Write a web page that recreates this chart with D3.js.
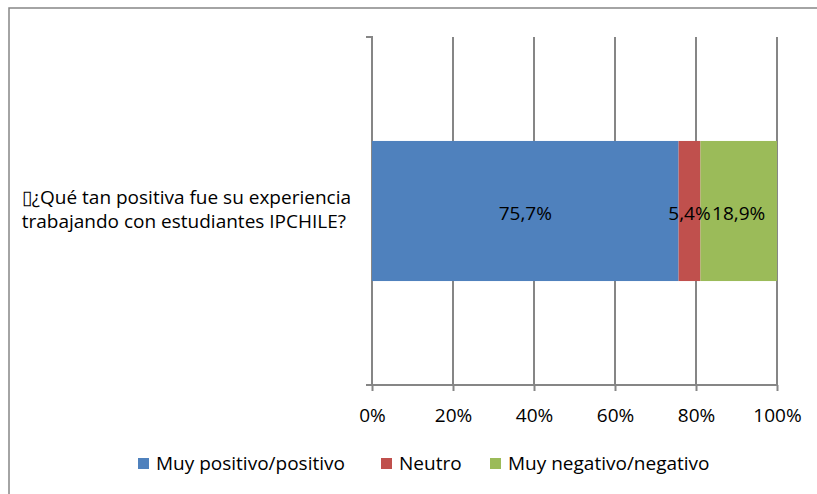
<!DOCTYPE html>
<html><head><meta charset="utf-8">
<script src="https://cdn.jsdelivr.net/npm/d3@7"></script>
<style>body{margin:0;background:#fff}svg{display:block}text{font-family:"Open Sans",sans-serif;fill:#000}</style>
</head><body>
<svg id="c" width="817" height="494"></svg>
<script>
const categories = ["▯¿Qué tan positiva fue su experiencia|trabajando con estudiantes IPCHILE?"];
const seriesNames = ["Muy positivo/positivo", "Neutro", "Muy negativo/negativo"];
const seriesValues = [[75.7], [5.4], [18.9]];
const seriesLabels = [["75,7%"], ["5,4%"], ["18,9%"]];
const colors = ["#4f81bd", "#c0504d", "#9bbb59"];
const xTicks = [0, 20, 40, 60, 80, 100];
const xTickLabels = ["0%", "20%", "40%", "60%", "80%", "100%"];

const svg = d3.select("#c");
// calibrate font size so the text width matches the reference (Calibri-like metrics)
const probe = svg.append("text").attr("font-size", 16).text(seriesNames[0]);
const FS = 16 * 189 / probe.node().getComputedTextLength();
probe.remove();

svg.append("rect").attr("x", 9).attr("y", 8).attr("width", 900).attr("height", 600)
  .attr("fill", "#fff").attr("stroke", "#868686").attr("stroke-width", 1.5);

const x = d3.scaleLinear().domain([0, 100]).range([372, 777]);
const y = d3.scaleBand().domain(categories).range([37, 385]).paddingInner(0.426).paddingOuter(0.426);
const gridColor = "#868686";

svg.append("g").selectAll("line").data(xTicks.slice(1)).join("line")
  .attr("x1", d => x(d)).attr("x2", d => x(d)).attr("y1", 37).attr("y2", 385)
  .attr("stroke", gridColor).attr("stroke-width", 2);

const xAxis = d3.axisBottom(x).tickValues(xTicks).tickSize(6).tickSizeOuter(0)
  .tickFormat((d, i) => xTickLabels[i]);
const gx = svg.append("g").attr("transform", "translate(0,385)").call(xAxis);
gx.select(".domain").attr("stroke", gridColor).attr("stroke-width", 2).attr("d", `M366,0H${x(100)}`);
gx.selectAll(".tick line").attr("stroke", gridColor).attr("stroke-width", 2);
gx.selectAll(".tick text").attr("font-size", FS).attr("font-family", "Open Sans").attr("fill", "#000")
  .attr("y", 30).attr("dy", "0.35em");

const yAxis = d3.axisLeft(y).tickSize(0).tickFormat("");
const gy = svg.append("g").attr("transform", "translate(372,0)").call(yAxis);
gy.select(".domain").attr("stroke", gridColor).attr("stroke-width", 2).attr("d", "M-6,37H0V385");

const stackData = categories.map((c, ci) => {
  const o = {cat: c};
  seriesNames.forEach((s, si) => o[s] = seriesValues[si][ci]);
  return o;
});
const stack = d3.stack().keys(seriesNames)(stackData);
const bars = svg.append("g");
stack.forEach((layer, si) => {
  bars.selectAll(null).data(layer).join("rect")
    .attr("x", d => x(d[0])).attr("width", d => x(d[1]) - x(d[0]))
    .attr("y", d => y(d.data.cat)).attr("height", y.bandwidth())
    .attr("fill", colors[si]);
});
stack.forEach((layer, si) => {
  svg.append("g").selectAll("text").data(layer).join("text")
    .attr("x", d => (x(d[0]) + x(d[1])) / 2)
    .attr("y", d => y(d.data.cat) + y.bandwidth() / 2 + 2)
    .attr("text-anchor", "middle").attr("dy", "0.35em")
    .attr("font-size", FS).text((d, i) => seriesLabels[si][i]);
});

categories.forEach(c => {
  const lines = c.split("|");
  const t = svg.append("text").attr("font-size", FS).attr("text-anchor", "end");
  const cy = y(c) + y.bandwidth() / 2;
  lines.forEach((ln, i) => {
    t.append("tspan").attr("x", 351 - i * 5).attr("y", cy - 14 + i * 24).attr("dy", "0.35em").text(ln);
  });
});

const legendX = [138, 381, 490];
const lg = svg.append("g");
seriesNames.forEach((s, i) => {
  lg.append("rect").attr("x", legendX[i]).attr("y", 458).attr("width", 11).attr("height", 11).attr("fill", colors[i]);
  lg.append("text").attr("x", legendX[i] + 18).attr("y", 463.5).attr("dy", "0.35em").attr("font-size", FS).text(s);
});
</script>
</body></html>
